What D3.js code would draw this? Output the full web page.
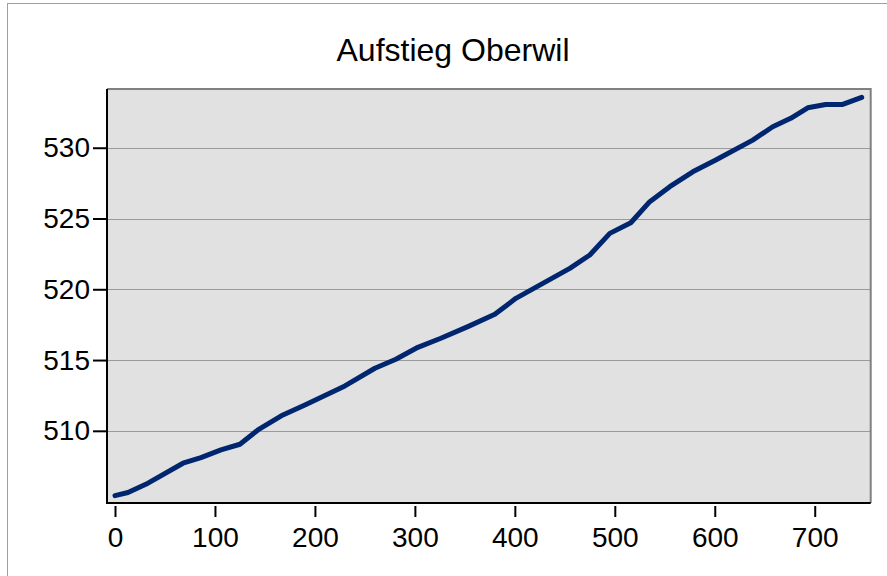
<!DOCTYPE html>
<html>
<head>
<meta charset="utf-8">
<script src="https://cdn.jsdelivr.net/npm/d3@7"></script>
<style>
  body { margin: 0; background: #fff; }
  svg { display: block; font-family: "Liberation Sans", Arial, sans-serif; }
</style>
</head>
<body>
<svg id="chart" width="887" height="576"></svg>
<script>
// Aufstieg Oberwil - elevation profile
var title = "Aufstieg Oberwil";
var distance = [0, 13, 33, 68, 86, 106, 125, 143, 168, 190, 230, 260, 281, 303, 326, 353, 380,
                401, 455, 475, 495, 516, 535, 555, 578, 601, 638, 658, 676, 693, 711, 728, 747];
var elevation = [505.42, 505.64, 506.30, 507.71, 508.11, 508.65, 509.05, 510.06, 511.12, 511.83,
                 513.17, 514.42, 515.06, 515.90, 516.54, 517.36, 518.23, 519.36, 521.48, 522.42,
                 523.95, 524.70, 526.19, 527.25, 528.30, 529.13, 530.54, 531.48, 532.08, 532.82,
                 533.06, 533.06, 533.56];
var xTicks = [0, 100, 200, 300, 400, 500, 600, 700];
var yTicks = [510, 515, 520, 525, 530];

var svg = d3.select("#chart");
var plotLeft = 107, plotRight = 870.7, plotTop = 89, plotBottom = 503;

var x = d3.scaleLinear().domain([-8, 756]).range([plotLeft, plotRight]);
var y = d3.scaleLinear().domain([504.9, 534.15]).range([plotBottom, plotTop]);

// outer frame
svg.append("rect")
    .attr("x", 7.5).attr("y", 3.5)
    .attr("width", 900).attr("height", 600)
    .attr("fill", "none")
    .attr("stroke", "#a0a0a0")
    .attr("stroke-width", 1);

svg.append("text")
    .attr("x", 453).attr("y", 61)
    .attr("text-anchor", "middle")
    .attr("font-size", 32)
    .attr("fill", "#000")
    .text(title);

// plot background
svg.append("rect")
    .attr("x", plotLeft).attr("y", plotTop)
    .attr("width", plotRight - plotLeft).attr("height", plotBottom - plotTop)
    .attr("fill", "#e1e1e1");

// grid
svg.append("g").selectAll("line").data(yTicks).enter()
    .append("line")
    .attr("x1", plotLeft).attr("x2", plotRight)
    .attr("y1", function(d) { return Math.round(y(d)) + 0.5; })
    .attr("y2", function(d) { return Math.round(y(d)) + 0.5; })
    .attr("stroke", "#9a9a9a")
    .attr("stroke-width", 1);

// top / right border (gray)
svg.append("path")
    .attr("d", "M" + plotLeft + "," + plotTop + "H" + plotRight + "V" + plotBottom)
    .attr("fill", "none")
    .attr("stroke", "#808080")
    .attr("stroke-width", 2);

// line
var line = d3.line()
    .x(function(d, i) { return x(distance[i]); })
    .y(function(d) { return y(d); });

svg.append("path")
    .datum(elevation)
    .attr("d", line)
    .attr("fill", "none")
    .attr("stroke", "#00266f")
    .attr("stroke-width", 5)
    .attr("stroke-linejoin", "round")
    .attr("stroke-linecap", "round");

// left / bottom axis lines (black)
svg.append("path")
    .attr("d", "M" + plotLeft + "," + plotTop + "V" + plotBottom + "H" + plotRight)
    .attr("fill", "none")
    .attr("stroke", "#000")
    .attr("stroke-width", 2);

var yAxis = svg.append("g")
    .attr("transform", "translate(" + plotLeft + ",0)")
    .call(d3.axisLeft(y).tickValues(yTicks).tickSize(14).tickPadding(3));
yAxis.select(".domain").remove();

var xAxis = svg.append("g")
    .attr("transform", "translate(0,506)")
    .call(d3.axisBottom(x).tickValues(xTicks).tickSize(11).tickPadding(10));
xAxis.select(".domain").remove();

svg.selectAll(".tick line").attr("stroke", "#000").attr("stroke-width", 2);
svg.selectAll(".tick text")
    .attr("font-size", 28)
    .attr("font-family", "'Liberation Sans', Arial, sans-serif")
    .attr("fill", "#000");
</script>
</body>
</html>
